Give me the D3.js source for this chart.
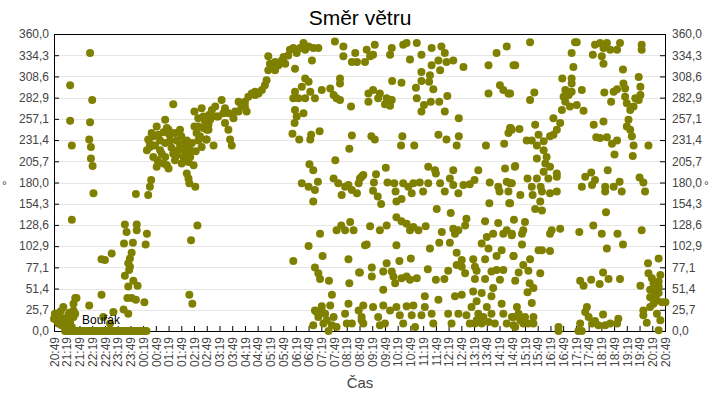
<!DOCTYPE html>
<html>
<head>
<meta charset="utf-8">
<script src="https://cdn.jsdelivr.net/npm/d3@7"></script>
<style>
  body { margin: 0; background: #fff; }
  svg { display: block; font-family: "Liberation Sans", Arial, sans-serif; }
</style>
</head>
<body>
<svg id="chart" width="720" height="400"></svg>
<script>
// X tick labels (every 30 minutes from 20:49)
const timeLabels = ['20:49', '21:19', '21:49', '22:19', '22:49', '23:19', '23:49', '00:19', '00:49',
  '01:19', '01:49', '02:19', '02:49', '03:19', '03:49', '04:19', '04:49', '05:19', '05:49', '06:19',
  '06:49', '07:19', '07:49', '08:19', '08:49', '09:19', '09:49', '10:19', '10:49', '11:19', '11:49',
  '12:19', '12:49', '13:19', '13:49', '14:19', '14:49', '15:19', '15:49', '16:19', '16:49', '17:19',
  '17:49', '18:19', '18:49', '19:19', '19:49', '20:19', '20:49'];

// Y tick labels (degrees)
const degreeLabels = ['0,0', '25,7', '51,4', '77,1', '102,9', '128,6', '154,3', '180,0',
  '205,7', '231,4', '257,1', '282,9', '308,6', '334,3', '360,0'];

// Wind direction readings: [minutes after 20:49, degrees]
const windEvening = [
  [2, 21], [6, 13], [10, 9], [14, 17], [18, 7], [22, 29], [26, 13], [30, 9], [30, 1], [34, 19],
  [38, 11], [42, 5], [46, 25], [46, 17], [46, 33], [50, 21], [50, 40], [53, 40], [4, 17], [8, 20],
  [12, 12], [24, 15], [36, 22], [0, 15], [16, 24],
  [38, 298], [38, 255], [42, 225], [42, 135],
  [85, 337], [90, 280], [85, 253], [83, 232], [87, 223], [87, 209], [91, 200], [93, 167], [83, 31],
  [26, 0], [30, 0], [34, 0], [38, 0], [42, 0], [46, 0], [50, 0], [54, 0], [58, 0], [62, 0],
  [66, 0], [70, 0], [74, 0], [78, 0], [82, 0], [86, 0], [90, 0], [94, 0], [98, 0], [102, 0],
  [106, 0], [110, 0], [114, 0], [118, 0], [122, 0], [126, 0], [130, 0], [134, 0], [138, 0], [142, 0],
  [146, 0], [150, 0], [154, 0], [158, 0], [162, 0], [166, 0], [170, 0], [174, 0], [178, 0], [182, 0],
  [186, 0], [190, 0], [194, 0], [198, 0], [202, 0], [206, 0], [210, 0], [214, 0], [218, 0],
  [112, 44], [116, 17], [132, 9], [140, 23], [164, 26], [175, 21], [112, 87], [120, 86], [136, 94]
];

const windNight = [
  [167, 129], [171, 120], [195, 129], [195, 122], [165, 106], [186, 107], [219, 118], [216, 105],
  [183, 95], [179, 88], [175, 82], [179, 78], [177, 74], [167, 67], [187, 61], [175, 54], [197, 55],
  [173, 40], [183, 40], [193, 38], [213, 35], [193, 166],
  [222, 165], [226, 175], [229, 183], [226, 227], [234, 236], [242, 248], [262, 256], [281, 275],
  [266, 246], [250, 231], [274, 231], [289, 231], [305, 227], [234, 211], [242, 199], [258, 203],
  [270, 197], [285, 207], [301, 203], [313, 191], [317, 185], [319, 179], [333, 175], [321, 211],
  [329, 201], [336, 240], [331, 248], [331, 266], [352, 260], [356, 254], [360, 244], [348, 223],
  [219, 219], [226, 223], [250, 219], [262, 211], [281, 215], [293, 219], [321, 219], [340, 231],
  [246, 238], [270, 244], [297, 244], [313, 231], [266, 201], [305, 211], [340, 248],
  [238, 225], [254, 215], [262, 228], [277, 222], [289, 213], [297, 226], [309, 218], [317, 205],
  [244, 207], [258, 241], [272, 238], [284, 240], [300, 236], [312, 224], [325, 228], [334, 218],
  [344, 236], [352, 246], [358, 232], [364, 250], [366, 262], [348, 270], [340, 258], [230, 240],
  [222, 232],
  [323, 110], [338, 128], [319, 44], [326, 33]
];

const windMorning = [
  [356, 256], [364, 244], [360, 232], [372, 268], [380, 272], [387, 260], [395, 280], [399, 264],
  [403, 252], [411, 244], [415, 232], [419, 225], [376, 225], [411, 264], [423, 258], [427, 266],
  [435, 278], [442, 272], [450, 278], [454, 266], [458, 284], [466, 288], [474, 290], [482, 288],
  [490, 292], [497, 298], [501, 304], [505, 316], [509, 324], [505, 333], [513, 320], [521, 326],
  [529, 322], [537, 328], [545, 324], [552, 334], [556, 341], [564, 343], [572, 337], [568, 318],
  [580, 343], [588, 349], [592, 341], [600, 345], [608, 328], [611, 343], [623, 343], [541, 332],
  [521, 316], [450, 272], [435, 266], [474, 286], [403, 270], [368, 256], [383, 260],
  [568, 290], [564, 282], [576, 282], [584, 296], [592, 306], [600, 302], [592, 282], [604, 290],
  [615, 282], [631, 292], [651, 294], [659, 286], [666, 282], [674, 280], [674, 306], [674, 300],
  [662, 351], [682, 345], [682, 333], [702, 326], [710, 337], [714, 326], [700, 272],
  [568, 268], [588, 264], [572, 260], [567, 252], [562, 239], [578, 232], [606, 238], [604, 232],
  [626, 242], [702, 237], [696, 221], [663, 207], [602, 202], [611, 195], [584, 179], [600, 175],
  [615, 171], [622, 181], [611, 157], [659, 185], [670, 179], [678, 165], [686, 175], [702, 171],
  [714, 167], [725, 187], [718, 179], [694, 177],
  [627, 118], [600, 103], [564, 85], [633, 91], [615, 77], [623, 70], [627, 63], [648, 61],
  [666, 122], [677, 128], [698, 132], [686, 122], [706, 122], [694, 87], [696, 58], [719, 71], [733, 104],
  [615, 25], [623, 17], [631, 30], [635, 9], [639, 21], [647, 0], [651, 31], [655, 44], [659, 17],
  [655, 7], [611, 7], [666, 5], [686, 21], [694, 33], [690, 9], [702, 9], [718, 25], [725, 13],
  [631, 25], [643, 13], [619, 23]
];

const windDay = [
  [737, 341], [745, 333], [733, 326], [756, 347], [752, 335], [796, 343], [792, 335], [823, 347],
  [831, 349], [855, 349], [839, 329], [866, 335], [890, 343], [913, 345], [921, 337], [906, 328],
  [890, 322], [910, 316], [925, 326], [941, 328], [866, 314], [886, 310], [965, 320], [1024, 322],
  [1043, 337], [1067, 345], [1083, 322],
  [741, 288], [752, 292], [768, 288], [741, 278], [764, 282], [784, 282], [796, 280], [792, 273],
  [780, 275], [797, 303], [819, 301], [853, 295], [866, 303], [884, 302], [894, 293], [855, 282],
  [872, 274], [866, 266], [888, 278], [908, 278], [927, 285], [921, 266], [954, 258], [1024, 288],
  [1051, 298], [1059, 292], [1071, 288],
  [748, 236], [756, 232], [821, 236], [818, 225], [849, 225], [906, 238], [925, 232], [954, 236],
  [949, 225], [1018, 225], [1061, 227], [1071, 240], [1076, 246],
  [721, 185], [729, 189], [759, 190], [754, 180], [752, 170], [763, 163], [771, 154], [782, 198],
  [786, 180], [802, 179], [805, 169], [807, 157], [819, 160], [823, 179], [835, 175], [843, 167],
  [847, 179], [862, 180], [870, 169], [882, 199], [882, 179], [898, 195], [900, 191], [910, 179],
  [921, 169], [933, 185], [941, 195], [941, 177], [953, 167], [965, 177], [980, 178], [991, 183],
  [1000, 195], [1027, 180], [1026, 155], [1047, 175], [1050, 169], [1063, 197], [1067, 181],
  [1073, 155], [1071, 169], [1086, 199], [1079, 179], [902, 148],
  [745, 127], [768, 122], [784, 128], [737, 105], [807, 138], [819, 133], [831, 130], [839, 122],
  [847, 126], [859, 122], [876, 127], [807, 104], [886, 100], [908, 107], [914, 120], [935, 143],
  [941, 124], [945, 118], [933, 107], [953, 122], [972, 136], [969, 128], [949, 95], [961, 86],
  [988, 87], [1008, 106], [1016, 133], [1020, 114], [1024, 100], [1035, 118], [1047, 131],
  [1055, 98], [1043, 91], [1059, 118], [1067, 122], [1079, 116], [1083, 91], [1016, 87],
  [721, 71], [749, 77], [749, 66], [776, 72], [784, 82], [796, 72], [800, 66], [804, 58], [814, 85],
  [819, 64], [831, 66], [841, 88], [839, 62], [855, 64], [881, 75], [900, 62], [920, 63], [929, 73],
  [949, 80], [961, 78], [969, 70], [992, 78], [996, 73], [992, 63], [1016, 63], [1031, 72],
  [1035, 52], [1043, 74], [1059, 74], [1051, 62], [776, 50],
  [729, 31], [725, 17], [729, 9], [752, 29], [764, 17], [768, 7], [776, 31], [780, 9], [792, 25],
  [807, 29], [815, 19], [823, 9], [831, 30], [843, 19], [847, 31], [851, 5], [866, 19], [874, 42],
  [874, 29], [890, 21], [894, 9], [906, 38], [929, 21], [937, 9], [945, 42], [953, 21], [961, 44],
  [972, 19], [984, 29], [988, 48], [992, 9], [996, 36], [1000, 21], [1008, 46], [1012, 17],
  [1020, 29], [1024, 11], [1031, 42], [1039, 9], [1055, 33], [1059, 21], [1067, 9], [1079, 17],
  [1083, 7], [1008, 9], [996, 13], [980, 9], [1031, 21]
];

const windAfternoon = [
  [1122, 350], [1228, 350], [1232, 350], [1220, 337], [1224, 320], [1087, 322], [1275, 347],
  [1287, 349], [1295, 343], [1303, 349], [1311, 341], [1327, 341], [1334, 349], [1270, 335],
  [1291, 333], [1295, 324], [1385, 347], [1385, 341], [1341, 317], [1378, 308],
  [1198, 306], [1220, 306], [1220, 300], [1205, 292], [1201, 284], [1205, 278], [1213, 286],
  [1220, 290], [1244, 292], [1216, 272], [1232, 274], [1248, 267], [1197, 268], [1122, 280],
  [1132, 289], [1075, 288], [1297, 289], [1313, 278], [1319, 290], [1327, 293], [1346, 294],
  [1342, 300], [1346, 284], [1350, 276], [1358, 268], [1366, 272], [1378, 280], [1382, 286],
  [1382, 296], [1370, 282],
  [1177, 258], [1193, 252], [1185, 244], [1177, 238], [1169, 236], [1154, 230], [1138, 225],
  [1134, 250], [1142, 238], [1075, 246], [1079, 244], [1097, 245], [1114, 231], [1126, 231],
  [1272, 250], [1295, 254], [1278, 235], [1287, 234], [1303, 235], [1315, 227], [1327, 231],
  [1354, 256], [1350, 248], [1358, 244], [1362, 236], [1366, 225], [1401, 225], [1364, 212], [1321, 214],
  [1154, 219], [1161, 211], [1138, 209], [1158, 203], [1169, 199], [1154, 193], [1165, 185],
  [1185, 191], [1185, 187], [1087, 200], [1116, 185], [1138, 185], [1147, 175], [1150, 169],
  [1126, 175], [1128, 165], [1099, 165], [1075, 179], [1075, 155], [1169, 167], [1185, 169],
  [1134, 148], [1150, 146], [1146, 157], [1244, 175], [1252, 187], [1266, 192], [1268, 177],
  [1275, 183], [1299, 175], [1299, 169], [1305, 195], [1319, 175], [1333, 181], [1338, 169],
  [1380, 186], [1389, 180], [1393, 169], [1301, 144],
  [1084, 135], [1110, 132], [1079, 118], [1106, 122], [1103, 118], [1103, 105], [1169, 118],
  [1173, 122], [1193, 124], [1169, 97], [1142, 98], [1150, 98], [1238, 120], [1271, 128],
  [1291, 118], [1303, 100], [1328, 118], [1341, 105], [1385, 122],
  [1083, 91], [1106, 80], [1122, 87], [1095, 71], [1118, 73], [1087, 61], [1121, 58], [1130, 52],
  [1116, 47], [1146, 70], [1240, 61], [1248, 55], [1266, 62], [1286, 57], [1294, 71], [1307, 63],
  [1334, 63], [1382, 55], [1400, 82], [1425, 88],
  [1091, 29], [1095, 21], [1083, 17], [1099, 13], [1110, 17], [1118, 9], [1130, 17], [1130, 9],
  [1087, 5], [1106, 9], [1126, 34], [1189, 5], [1189, 0], [1240, 9], [1236, 0], [1244, 0],
  [1252, 23], [1256, 29], [1260, 17], [1268, 9], [1275, 12], [1283, 7], [1294, 20], [1299, 7],
  [1311, 9], [1327, 9], [1330, 15], [1389, 25], [1389, 19], [1397, 10], [1405, 41], [1405, 29],
  [1413, 33], [1421, 37], [1425, 46], [1433, 35], [1441, 35], [1421, 21], [1429, 13], [1425, 1],
  [1401, 70], [1409, 64], [1413, 58], [1421, 54], [1417, 46], [1429, 68], [1425, 54], [1405, 50],
  [1413, 41], [1425, 60]
];

const windData = [].concat(windEvening, windNight, windMorning, windDay, windAfternoon);

// Chart dimensions
const plot = { left: 54, right: 665, top: 34, bottom: 331 };
const textColor = '#444';

const svg = d3.select('#chart');

const xScale = d3.scaleLinear()
  .domain([0, 1440])
  .range([plot.left, plot.right]);

const yScale = d3.scaleLinear()
  .domain([0, 360])
  .range([plot.bottom, plot.top]);

const xTicks = timeLabels.map((t, i) => i * 30);
const yTicks = degreeLabels.map((t, i) => i * 360 / 14);

// Grid lines
svg.append('g')
  .selectAll('line')
  .data(yTicks.slice(1, -1))
  .enter()
  .append('line')
  .attr('x1', plot.left)
  .attr('x2', plot.right)
  .attr('y1', d => Math.round(yScale(d)) + 0.5)
  .attr('y2', d => Math.round(yScale(d)) + 0.5)
  .attr('stroke', '#e6e6e6');

// X axis
const xAxis = d3.axisBottom(xScale)
  .tickValues(xTicks)
  .tickSizeInner(-5)
  .tickSizeOuter(0)
  .tickFormat((d, i) => timeLabels[i]);

const gx = svg.append('g')
  .attr('transform', `translate(0, ${plot.bottom})`)
  .call(xAxis);

gx.selectAll('text')
  .attr('transform', 'rotate(-90)')
  .attr('x', -6)
  .attr('y', 0)
  .attr('dy', '0.35em')
  .style('text-anchor', 'end');

// Y axes
const gy = svg.append('g')
  .attr('transform', `translate(${plot.left}, 0)`)
  .call(d3.axisLeft(yScale).tickValues(yTicks).tickSizeInner(-5).tickSizeOuter(0)
    .tickPadding(5).tickFormat((d, i) => degreeLabels[i]));

const gy2 = svg.append('g')
  .attr('transform', `translate(${plot.right}, 0)`)
  .call(d3.axisRight(yScale).tickValues(yTicks).tickSizeInner(-5).tickSizeOuter(0)
    .tickPadding(7).tickFormat((d, i) => degreeLabels[i]));

[gx, gy, gy2].forEach((g) => {
  g.select('.domain').remove();
  g.selectAll('text')
    .attr('fill', textColor)
    .style('font-size', '12px')
    .style('font-family', '"Liberation Sans", Arial, sans-serif');
  g.selectAll('line').attr('stroke', '#000');
});

// Frame
svg.append('rect')
  .attr('x', plot.left + 0.5)
  .attr('y', plot.top + 0.5)
  .attr('width', plot.right - plot.left)
  .attr('height', plot.bottom - plot.top)
  .attr('fill', 'none')
  .attr('stroke', '#000');

// Points
svg.append('g')
  .selectAll('circle')
  .data(windData)
  .enter()
  .append('circle')
  .attr('cx', d => xScale(d[0]))
  .attr('cy', d => yScale(d[1]))
  .attr('r', 4)
  .attr('fill', '#808000');

// Annotation
svg.append('text')
  .attr('x', xScale(66))
  .attr('y', yScale(0) - 7)
  .attr('fill', '#000')
  .style('font-size', '12px')
  .text('Bouřák');

// Title
svg.append('text')
  .attr('x', 360)
  .attr('y', 25)
  .attr('text-anchor', 'middle')
  .attr('fill', '#000')
  .style('font-size', '21px')
  .text('Směr větru');

// Axis titles
svg.append('text')
  .attr('x', 360)
  .attr('y', 388)
  .attr('text-anchor', 'middle')
  .attr('fill', textColor)
  .style('font-size', '15px')
  .text('Čas');

svg.append('text')
  .attr('x', 2)
  .attr('y', 190)
  .attr('fill', textColor)
  .style('font-size', '12px')
  .text('°');

svg.append('text')
  .attr('x', 704)
  .attr('y', 190)
  .attr('fill', textColor)
  .style('font-size', '12px')
  .text('°');
</script>
</body>
</html>
